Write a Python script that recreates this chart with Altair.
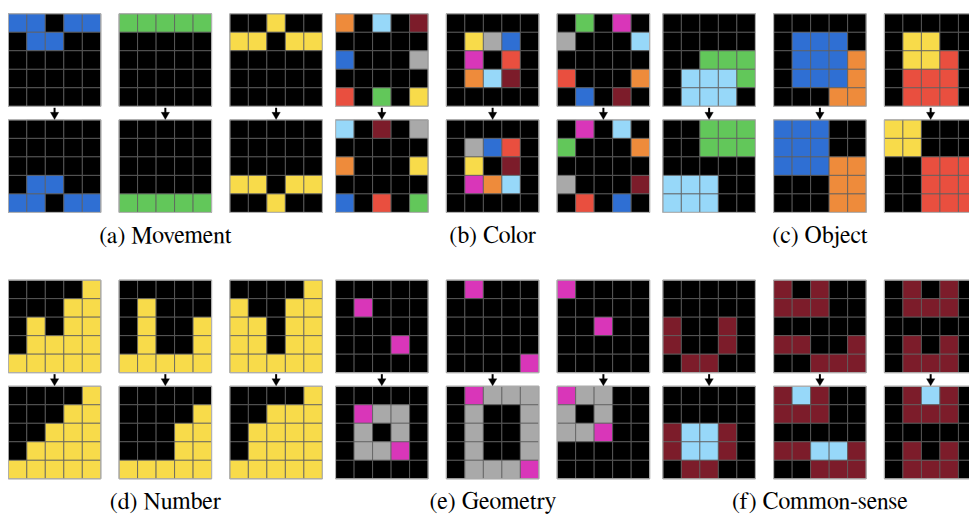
import altair as alt
import pandas as pd

# ---- palette (cell letter -> colour) ----
PALETTE_KEYS = ["K", "B", "R", "G", "Y", "A", "P", "O", "C", "M"]
PALETTE_COLORS = ["#000000", "#2f6fd3", "#e94f3f", "#62c75a", "#f8db4a",
                  "#a9a9a9", "#d936b9", "#ee8b3b", "#97d8f9", "#7c1c2a"]

LABELS = ["(a) Movement", "(b) Color", "(c) Object",
          "(d) Number", "(e) Geometry", "(f) Common-sense"]

# ---- (a) Movement ----
A1_IN = ["BBKBB", "KBBKK", "KKKKK", "KKKKK", "KKKKK"]
A1_OUT = ["KKKKK", "KKKKK", "KKKKK", "KBBKK", "BBKBB"]
A2_IN = ["GGGGG", "KKKKK", "KKKKK", "KKKKK", "KKKKK"]
A2_OUT = ["KKKKK", "KKKKK", "KKKKK", "KKKKK", "GGGGG"]
A3_IN = ["KKYKK", "YYKYY", "KKKKK", "KKKKK", "KKKKK"]
A3_OUT = ["KKKKK", "KKKKK", "KKKKK", "YYKYY", "KKYKK"]

# ---- (b) Color ----
B1_IN = ["OKCKM", "KKKKK", "BKKKA", "KKKKK", "RKGKY"]
B1_OUT = ["CKMKA", "KKKKK", "OKKKY", "KKKKK", "BKRKG"]
B2_IN = ["KKKKK", "KYABK", "KPKRK", "KOCMK", "KKKKK"]
B2_OUT = ["KKKKK", "KABRK", "KYKMK", "KPOCK", "KKKKK"]
B3_IN = ["KGKPK", "AKKKC", "KKKKK", "RKKKO", "KBKMK"]
B3_OUT = ["KPKCK", "GKKKO", "KKKKK", "AKKKM", "KRKBK"]

# ---- (c) Object ----
C1_IN = ["KKKKK", "KKKKK", "KKGGG", "KCCCG", "KCCCK"]
C1_OUT = ["KKGGG", "KKGGG", "KKKKK", "CCCKK", "CCCKK"]
C2_IN = ["KKKKK", "KBBBK", "KBBBO", "KBBBO", "KKKOO"]
C2_OUT = ["BBBKK", "BBBKK", "BBBOO", "KKKOO", "KKKOO"]
C3_IN = ["KKKKK", "KYYKK", "KYYRK", "KRRRK", "KRRRK"]
C3_OUT = ["YYKKK", "YYKKK", "KKRRR", "KKRRR", "KKRRR"]

# ---- (d) Number ----
D1_IN = ["KKKKY", "KKKYY", "KYKYY", "KYYYY", "YYYYY"]
D1_OUT = ["KKKKY", "KKKYY", "KKYYY", "KYYYY", "YYYYY"]
D2_IN = ["KKKKK", "KYKKK", "KYKKY", "KYKKY", "YYYYY"]
D2_OUT = ["KKKKK", "KKKKY", "KKKYY", "KKKYY", "YYYYY"]
D3_IN = ["KKKKY", "YKKYY", "YYKYY", "YYKYY", "YYYYY"]
D3_OUT = ["KKKKY", "KKYYY", "KYYYY", "KYYYY", "YYYYY"]

# ---- (e) Geometry ----
E1_IN = ["KKKKK", "KPKKK", "KKKKK", "KKKPK", "KKKKK"]
E1_OUT = ["KKKKK", "KPAAK", "KAKAK", "KAAPK", "KKKKK"]
E2_IN = ["KPKKK", "KKKKK", "KKKKK", "KKKKK", "KKKKP"]
E2_OUT = ["KPAAA", "KAKKA", "KAKKA", "KAKKA", "KAAAP"]
E3_IN = ["PKKKK", "KKKKK", "KKPKK", "KKKKK", "KKKKK"]
E3_OUT = ["PAAKK", "AKAKK", "AAPKK", "KKKKK", "KKKKK"]

# ---- (f) Common-sense ----
F1_IN = ["KKKKK", "KKKKK", "MKKMK", "MKKMK", "KMMKK"]
F1_OUT = ["KKKKK", "KKKKK", "MCCMK", "MCCMK", "KMMKK"]
F2_IN = ["MKMKK", "MMMKK", "KKKKK", "MMKKM", "KKMMM"]
F2_OUT = ["MCMKK", "MMMKK", "KKKKK", "MMCCM", "KKMMM"]
F3_IN = ["KMKMK", "KMMMK", "KKKKK", "KMKMK", "KMMMK"]
F3_OUT = ["KMCMK", "KMMMK", "KKKKK", "KMKMK", "KMMMK"]

GROUPS = [
    [(A1_IN, A1_OUT), (A2_IN, A2_OUT), (A3_IN, A3_OUT)],
    [(B1_IN, B1_OUT), (B2_IN, B2_OUT), (B3_IN, B3_OUT)],
    [(C1_IN, C1_OUT), (C2_IN, C2_OUT), (C3_IN, C3_OUT)],
    [(D1_IN, D1_OUT), (D2_IN, D2_OUT), (D3_IN, D3_OUT)],
    [(E1_IN, E1_OUT), (E2_IN, E2_OUT), (E3_IN, E3_OUT)],
    [(F1_IN, F1_OUT), (F2_IN, F2_OUT), (F3_IN, F3_OUT)],
]

# ---- layout (page pixel units) ----
X_START, GROUP_DX, PAIR_DX = 8.3, 330.0, 111.7
Y_START, ROW_DY, IO_DY = 11.7, 268.6, 107.0
CELL = 18.66
LABEL_DY = 231.0

cells, frames, arrows, labels = [], [], [], []
for gi, pairs in enumerate(GROUPS):
    gx, gy = gi % 3, gi // 3
    for p, (gin, gout) in enumerate(pairs):
        x0 = X_START + gx * GROUP_DX + p * PAIR_DX
        for io, grid in enumerate((gin, gout)):
            y0 = Y_START + gy * ROW_DY + io * IO_DY
            for r, line in enumerate(grid):
                for c, ch in enumerate(line):
                    cells.append(dict(x=x0 + c * CELL, x2=x0 + (c + 1) * CELL,
                                      y=y0 + r * CELL, y2=y0 + (r + 1) * CELL,
                                      color=ch))
            frames.append(dict(x=x0, x2=x0 + 5 * CELL, y=y0, y2=y0 + 5 * CELL))
        ybot = Y_START + gy * ROW_DY + 5 * CELL
        arrows.append(dict(x=x0 + 2.5 * CELL, y=ybot + 1.5, y2=ybot + 8.5,
                           yh=ybot + 9.7))
    gx0 = X_START + gx * GROUP_DX
    labels.append(dict(x=gx0 + (2 * PAIR_DX + 5 * CELL) / 2,
                       y=Y_START + gy * ROW_DY + LABEL_DY, text=LABELS[gi]))

W, H = 969, 508
xs = alt.Scale(domain=[8, 8 + W], range=[0, W])
ys = alt.Scale(domain=[8, 8 + H], range=[0, H])

cell_layer = alt.Chart(pd.DataFrame(cells)).mark_rect(
    stroke="#5e5e5e", strokeWidth=0.8, clip=True
).encode(
    x=alt.X("x:Q", scale=xs, axis=None), x2="x2:Q",
    y=alt.Y("y:Q", scale=ys, axis=None), y2="y2:Q",
    color=alt.Color("color:N", scale=alt.Scale(domain=PALETTE_KEYS, range=PALETTE_COLORS),
                    legend=None),
)

frame_layer = alt.Chart(pd.DataFrame(frames)).mark_rect(
    fill=None, stroke="#b8b8b8", strokeWidth=1, clip=True
).encode(
    x=alt.X("x:Q", scale=xs, axis=None), x2="x2:Q",
    y=alt.Y("y:Q", scale=ys, axis=None), y2="y2:Q",
)

adf = pd.DataFrame(arrows)
stem = alt.Chart(adf).mark_rule(color="black", strokeWidth=2).encode(
    x=alt.X("x:Q", scale=xs, axis=None),
    y=alt.Y("y:Q", scale=ys, axis=None), y2="y2:Q",
)
head = alt.Chart(adf).mark_point(
    shape="M-1,-0.85L1,-0.85L0,0.85Z", filled=True, fill="black",
    stroke="black", strokeWidth=0.3, size=72, opacity=1
).encode(
    x=alt.X("x:Q", scale=xs, axis=None),
    y=alt.Y("yh:Q", scale=ys, axis=None),
)

text_layer = alt.Chart(pd.DataFrame(labels)).mark_text(
    font="FreeSerif, serif", fontSize=24, color="black",
    align="center", baseline="alphabetic"
).encode(
    x=alt.X("x:Q", scale=xs, axis=None),
    y=alt.Y("y:Q", scale=ys, axis=None),
    text="text:N",
)

chart = alt.layer(cell_layer, frame_layer, stem, head, text_layer).properties(
    width=W, height=H, padding=0, autosize=alt.AutoSizeParams(type="none"),
    background="white",
).configure_view(stroke=None)

chart.save("out.html", embed_options={"renderer": "svg", "actions": False})
